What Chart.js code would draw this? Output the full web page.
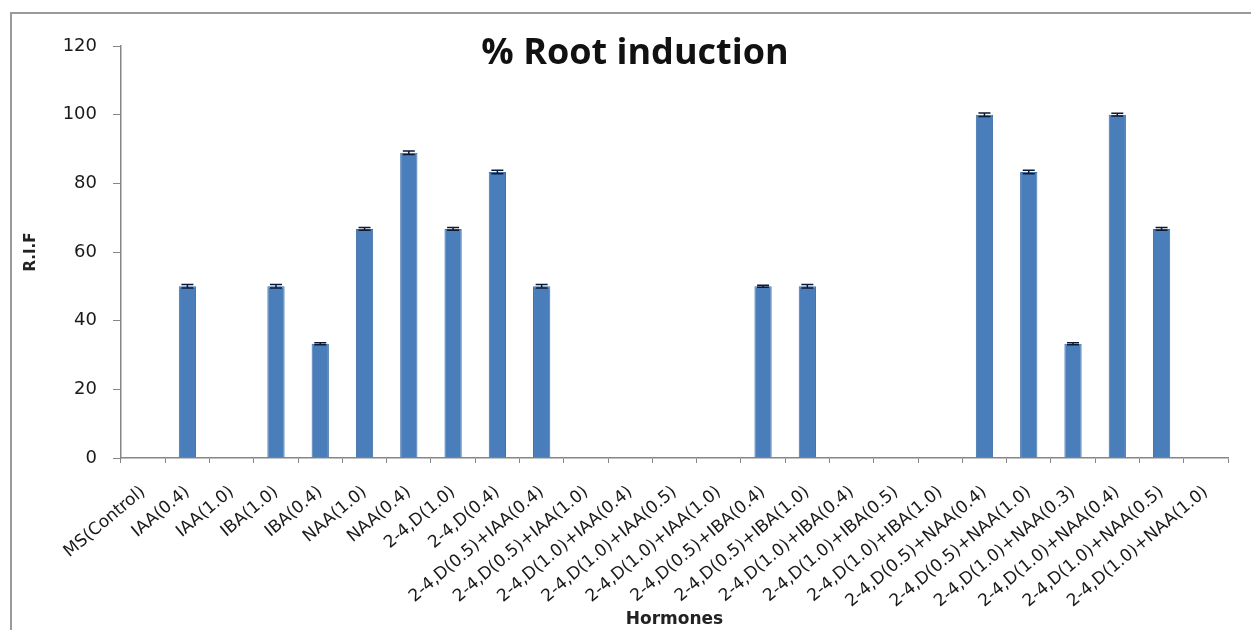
<!DOCTYPE html>
<html>
<head>
<meta charset="utf-8">
<script src="https://cdn.jsdelivr.net/npm/chart.js@4.4.1/dist/chart.umd.min.js"></script>
<style>
html,body{margin:0;padding:0;background:#fff;}
#wrap{width:1251px;height:630px;position:relative;}
</style>
</head>
<body>
<div id="wrap"><canvas id="c" width="1251" height="630"></canvas></div>
<script>
const categories = [
  "MS(Control)", "IAA(0.4)", "IAA(1.0)", "IBA(1.0)", "IBA(0.4)", "NAA(1.0)", "NAA(0.4)",
  "2-4,D(1.0)", "2-4,D(0.4)", "2-4,D(0.5)+IAA(0.4)", "2-4,D(0.5)+IAA(1.0)",
  "2-4,D(1.0)+IAA(0.4)", "2-4,D(1.0)+IAA(0.5)", "2-4,D(1.0)+IAA(1.0)",
  "2-4,D(0.5)+IBA(0.4)", "2-4,D(0.5)+IBA(1.0)", "2-4,D(1.0)+IBA(0.4)",
  "2-4,D(1.0)+IBA(0.5)", "2-4,D(1.0)+IBA(1.0)", "2-4,D(0.5)+NAA(0.4)",
  "2-4,D(0.5)+NAA(1.0)", "2-4,D(1.0)+NAA(0.3)", "2-4,D(1.0)+NAA(0.4)",
  "2-4,D(1.0)+NAA(0.5)", "2-4,D(1.0)+NAA(1.0)"
];
const rifValues = [0, 50, 0, 50, 33.3, 66.7, 88.9, 66.7, 83.3, 50, 0, 0, 0, 0, 50, 50, 0, 0, 0, 100, 83.3, 33.3, 100, 66.7, 0];
const rifErrors = [0, 0.5, 0, 0.5, 0.3, 0.4, 0.5, 0.4, 0.5, 0.5, 0, 0, 0, 0, 0.3, 0.5, 0, 0, 0, 0.5, 0.5, 0.3, 0.4, 0.4, 0];
const yTicks = [0, 20, 40, 60, 80, 100, 120];
const chartTitle = "% Root induction";
const xTitle = "Hormones";
const yTitle = "R.I.F";

const frameAndTitle = {
  id: 'frameAndTitle',
  beforeDraw(chart) {
    const ctx = chart.ctx;
    ctx.save();
    ctx.fillStyle = '#fff';
    ctx.fillRect(0, 0, chart.width, chart.height);
    ctx.strokeStyle = '#9a9a9a';
    ctx.lineWidth = 2;
    ctx.strokeRect(11, 13, chart.width + 20, chart.height + 20);
    ctx.restore();
  },
  afterDraw(chart) {
    const ctx = chart.ctx;
    ctx.save();
    ctx.fillStyle = '#111';
    ctx.font = 'bold 36px "Open Sans", sans-serif';
    ctx.textAlign = 'center';
    ctx.textBaseline = 'alphabetic';
    ctx.fillText(chartTitle, 635, 64);
    ctx.restore();
  }
};

const errorBars = {
  id: 'errorBars',
  afterDatasetsDraw(chart) {
    const ctx = chart.ctx;
    const meta = chart.getDatasetMeta(0);
    const ys = chart.scales.y;
    ctx.save();
    ctx.strokeStyle = '#0d1a33';
    ctx.lineWidth = 1.5;
    meta.data.forEach((bar, i) => {
      const v = rifValues[i], e = rifErrors[i];
      if (!v) return;
      const yTop = ys.getPixelForValue(v + e);
      const yBot = ys.getPixelForValue(v - e);
      const x = bar.x, hw = 6;
      ctx.beginPath();
      ctx.moveTo(x, yTop); ctx.lineTo(x, yBot);
      ctx.moveTo(x - hw, yTop); ctx.lineTo(x + hw, yTop);
      ctx.moveTo(x - hw, yBot); ctx.lineTo(x + hw, yBot);
      ctx.stroke();
    });
    ctx.restore();
  }
};

new Chart(document.getElementById('c'), {
  type: 'bar',
  data: {
    labels: categories,
    datasets: [{
      label: yTitle,
      data: rifValues,
      backgroundColor: '#4a7ebb',
      borderColor: '#3f6ea8',
      borderWidth: 1,
      barPercentage: 0.39,
      categoryPercentage: 1.0
    }]
  },
  options: {
    responsive: false,
    animation: false,
    devicePixelRatio: 1,
    layout: { padding: { left: 0, right: 23, top: 46, bottom: 0 } },
    plugins: {
      legend: { display: false },
      tooltip: { enabled: false },
      title: { display: false }
    },
    scales: {
      x: {
        offset: true,
        grid: { display: true, drawOnChartArea: false, offset: true, tickLength: 5, color: '#868686' },
        border: { display: true, color: '#868686', width: 1.5 },
        ticks: {
          autoSkip: false, minRotation: 40, maxRotation: 40, padding: 19,
          color: '#1a1a1a', font: { family: '"DejaVu Sans", sans-serif', size: 17 }
        },
        title: {
          display: true, text: xTitle, color: '#222',
          font: { family: '"DejaVu Sans", sans-serif', size: 17, weight: 'bold' },
          padding: { top: 0, bottom: 0 }
        },
        afterFit(scale) { scale.height = 172; }
      },
      y: {
        min: 0, max: 120,
        afterBuildTicks(scale) { scale.ticks = yTicks.map(v => ({ value: v })); },
        grid: { display: true, drawOnChartArea: false, tickLength: 8, color: '#868686' },
        border: { display: true, color: '#868686', width: 1.5 },
        ticks: {
          padding: 16, color: '#1a1a1a',
          font: { family: '"DejaVu Sans", sans-serif', size: 18 }
        },
        title: {
          display: true, text: yTitle, color: '#222',
          font: { family: '"DejaVu Sans", sans-serif', size: 15, weight: 'bold' },
          padding: { top: 22, bottom: 0 }
        },
        afterFit(scale) { scale.width = 121; }
      }
    }
  },
  plugins: [frameAndTitle, errorBars]
});
</script>
</body>
</html>
